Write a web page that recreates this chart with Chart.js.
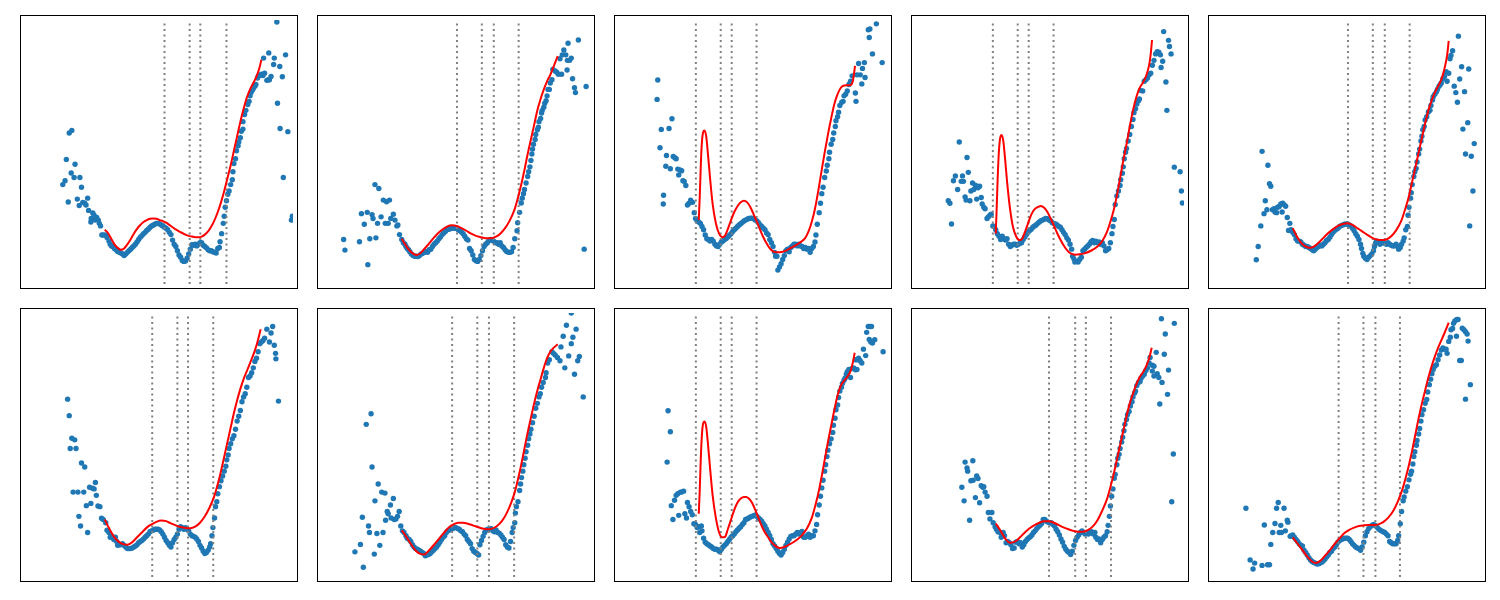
<!DOCTYPE html>
<html>
<head>
<meta charset="utf-8">
<script src="https://cdn.jsdelivr.net/npm/chart.js@4.4.0/dist/chart.umd.min.js"></script>
<style>
  body { margin: 0; background: #fff; width: 1500px; height: 600px; position: relative; overflow: hidden; }
  .panel { position: absolute; width: 276px; height: 272px; border: 1px solid #000; background: #fff; }
  .panel canvas { display: block; }
</style>
</head>
<body>
<script>
// 各パネルの値(読み取り値)  [x, y]
const p1Points = [[12.5,31.0],[13.2,32.2],[14.2,25.6],[13.6,38.8],[14.5,47.0],[15.3,47.8],[15.1,34.6],[16.0,33.2],[16.3,37.3],[17.0,26.5],[17.6,24.5],[17.8,33.2],[18.3,30.2],[18.7,25.5],[19.3,25.2],[20.2,26.8],[19.7,24.7],[20.5,23.0],[21.3,20.5],[21.2,19.4],[21.8,22.2],[22.2,21.5],[22.5,20.0],[23.0,20.8],[23.5,20.0],[23.8,19.0],[24.2,18.2],[24.6,15.4],[25.0,15.4],[25.7,15.4],[26.2,14.6],[26.8,13.5],[27.2,12.5],[27.6,12.0],[28.0,11.8],[28.5,11.2],[29.0,10.8],[29.5,10.3],[30.0,10.0],[30.5,9.8],[31.0,9.5],[31.5,9.0],[32.0,9.5],[32.5,10.0],[33.0,10.5],[33.5,11.0],[34.0,11.5],[34.5,12.0],[35.0,12.5],[35.5,13.2],[36.0,14.0],[36.5,14.7],[37.0,15.2],[37.5,15.8],[38.0,16.2],[38.5,16.8],[39.0,17.2],[39.5,17.7],[40.0,18.2],[40.5,18.4],[41.0,18.7],[41.5,19.0],[42.0,19.0],[42.5,18.8],[43.0,18.5],[43.5,18.2],[44.0,17.8],[44.5,17.5],[45.0,17.0],[45.5,16.2],[46.0,15.5],[46.5,13.8],[47.0,12.5],[47.5,11.8],[48.0,10.5],[48.5,9.2],[49.0,8.5],[49.5,7.5],[50.0,7.2],[50.5,7.3],[51.0,8.2],[51.5,9.5],[52.0,11.0],[52.5,12.4],[53.0,12.2],[53.5,12.5],[54.0,12.0],[54.5,12.5],[55.0,13.0],[55.5,13.0],[56.0,12.2],[56.5,11.8],[57.0,11.4],[57.5,10.8],[58.0,10.5],[58.5,10.5],[59.0,10.2],[59.5,10.0],[60.0,9.8],[60.5,11.2],[61.0,11.5],[61.2,13.3],[61.7,15.8],[62.2,19.0],[62.5,21.2],[62.8,24.0],[63.2,26.0],[63.6,28.0],[64.0,29.0],[64.5,31.0],[65.0,32.5],[65.2,35.0],[65.5,37.5],[66.0,39.0],[66.3,41.5],[66.8,43.0],[67.0,44.2],[67.5,45.5],[67.8,47.5],[68.3,48.2],[68.3,50.5],[68.8,52.7],[69.2,54.0],[69.8,55.8],[70.2,56.8],[70.5,58.5],[70.8,59.5],[71.2,60.2],[71.5,60.8],[72.0,61.5],[72.3,62.0],[72.8,64.0],[73.0,64.5],[73.5,64.8],[74.0,65.2],[74.5,64.8],[75.0,65.5],[75.7,63.3],[76.2,63.5],[76.5,63.5],[77.0,64.5],[74.7,70.2],[76.3,71.8],[78.0,70.2],[78.8,81.4],[77.8,68.2],[79.7,67.6],[80.5,64.4],[81.5,71.2],[79.0,56.2],[79.8,48.4],[80.8,33.2],[82.2,47.4],[83.3,20.0],[83.6,21.2]];
const p1Curve = [[25.5,17.0],[26.5,16.0],[27.5,14.2],[28.5,12.5],[29.5,11.4],[30.5,10.8],[31.5,11.2],[32.5,12.5],[33.5,14.0],[34.5,15.8],[35.5,17.3],[36.5,18.5],[37.5,19.4],[38.5,20.0],[39.5,20.4],[40.5,20.5],[41.5,20.4],[42.5,20.0],[43.5,19.7],[44.5,19.2],[45.5,18.5],[46.5,17.8],[47.5,17.1],[48.5,16.5],[49.5,16.0],[50.5,15.5],[51.5,15.1],[52.5,14.9],[53.5,14.7],[54.5,14.7],[55.5,14.9],[56.5,15.5],[57.5,16.5],[58.5,18.0],[59.5,20.0],[60.5,22.5],[61.5,25.5],[62.5,29.0],[63.5,33.0],[64.5,37.0],[65.5,41.5],[66.5,46.0],[67.5,50.5],[68.5,54.5],[69.5,58.0],[70.5,60.5],[71.5,62.5],[72.5,64.5],[73.5,67.5],[74.0,69.7]];
const p1Lines = [44.0, 51.8, 55.1, 63.2];

const p2Points = [[7.5,14.0],[7.9,10.7],[12.4,13.3],[15.0,6.2],[15.6,14.2],[13.0,22.0],[13.9,18.7],[14.8,22.4],[16.3,21.7],[16.6,20.5],[17.2,31.0],[17.5,14.5],[18.0,19.0],[18.4,29.8],[19.1,21.0],[19.8,26.2],[20.4,19.0],[20.8,25.7],[21.3,19.0],[21.7,26.2],[22.1,20.5],[22.9,21.8],[23.4,20.0],[24.0,18.2],[24.3,18.5],[24.8,15.5],[25.5,14.0],[26.0,13.0],[26.5,12.5],[26.8,11.8],[27.2,11.2],[27.6,10.8],[28.0,10.2],[28.5,9.5],[29.0,9.0],[29.5,8.8],[30.0,8.8],[30.5,8.7],[31.0,9.0],[31.5,9.5],[32.0,9.7],[32.5,10.0],[33.0,10.2],[33.5,10.0],[34.0,10.8],[34.5,11.0],[35.0,11.8],[35.5,12.5],[36.0,13.0],[36.5,13.5],[37.0,14.2],[37.5,14.8],[38.0,15.5],[38.5,16.0],[39.0,16.5],[39.5,17.0],[40.0,17.2],[40.5,17.3],[41.0,17.5],[41.5,17.5],[42.0,17.5],[42.5,17.4],[43.0,17.0],[43.5,16.7],[44.0,16.3],[44.5,15.8],[45.0,15.0],[45.5,14.2],[46.0,13.8],[46.5,11.2],[47.0,10.5],[47.5,9.2],[48.0,7.8],[48.5,7.4],[49.0,7.2],[49.5,7.8],[50.0,9.0],[50.5,10.5],[51.0,11.8],[51.5,12.5],[52.0,13.0],[52.5,13.7],[53.0,14.0],[53.5,13.7],[54.0,13.5],[54.5,13.0],[55.0,13.0],[55.5,12.5],[56.0,13.0],[56.5,12.0],[57.0,11.5],[57.5,10.8],[58.0,10.3],[58.5,10.0],[59.0,10.0],[59.5,10.2],[60.0,11.5],[60.5,14.2],[61.2,16.7],[61.4,19.2],[62.0,22.4],[62.5,25.3],[62.8,26.8],[63.2,28.2],[63.5,29.5],[64.0,31.5],[64.5,33.5],[64.8,35.0],[65.2,36.5],[65.5,38.5],[65.8,40.5],[66.0,42.0],[66.3,43.5],[66.8,45.0],[67.0,46.5],[67.5,48.0],[67.8,48.8],[68.0,50.5],[68.5,51.5],[68.8,53.2],[69.0,54.0],[69.5,55.0],[69.8,56.2],[70.2,57.0],[70.5,58.5],[70.8,60.5],[71.2,60.5],[71.5,62.5],[72.0,63.5],[72.3,66.7],[73.0,66.2],[73.5,65.8],[74.0,65.2],[75.0,65.2],[74.5,70.0],[75.2,71.2],[75.7,72.7],[76.3,71.2],[77.0,74.8],[76.8,69.5],[77.5,69.5],[78.0,70.2],[76.7,66.5],[78.4,63.8],[79.0,61.0],[79.3,59.5],[80.2,75.8],[82.0,11.0],[82.6,61.4]];
const p2Curve = [[25.5,14.2],[27.0,11.8],[28.5,10.0],[30.0,9.2],[31.0,9.5],[32.0,10.5],[33.5,12.2],[35.0,14.0],[36.5,15.7],[38.0,17.0],[39.5,18.0],[41.0,18.4],[42.5,18.2],[44.0,17.5],[45.5,16.7],[47.0,15.8],[48.5,15.1],[50.0,14.7],[51.5,14.4],[53.0,14.4],[54.5,14.8],[56.0,15.8],[57.5,17.5],[59.0,20.0],[60.5,23.5],[61.5,27.0],[62.5,31.0],[63.5,35.5],[64.5,40.5],[65.5,45.0],[66.5,49.5],[67.5,54.0],[68.5,57.5],[69.5,60.5],[70.5,63.0],[71.5,65.0],[72.5,67.5],[73.8,70.8]];
const p2Lines = [42.6, 50.3, 54.0, 61.7];

const p3Points = [[12.8,63.4],[12.6,57.4],[13.9,48.1],[13.5,42.4],[14.6,27.7],[14.5,25.0],[15.5,40.0],[15.3,36.7],[16.3,48.4],[16.7,35.9],[17.2,51.4],[17.6,39.7],[18.1,39.3],[18.5,39.0],[19.0,35.8],[19.3,34.0],[19.7,35.5],[20.2,35.3],[20.6,32.2],[21.0,32.0],[21.5,30.7],[22.0,24.7],[22.5,25.2],[23.0,26.2],[23.6,25.5],[24.1,22.3],[24.5,20.5],[25.0,19.7],[25.5,19.4],[26.0,19.0],[26.5,18.0],[27.0,17.0],[27.5,15.4],[28.0,14.2],[28.5,14.0],[29.0,13.5],[29.5,14.0],[30.0,13.5],[30.5,12.5],[31.0,12.0],[31.5,11.8],[32.0,12.5],[32.5,13.2],[33.0,13.5],[33.5,14.0],[34.0,14.3],[34.5,14.8],[35.0,15.3],[35.5,15.8],[36.0,16.5],[36.5,17.0],[37.0,17.5],[37.5,18.0],[38.0,18.5],[38.5,18.9],[39.0,19.3],[39.5,19.7],[40.0,20.0],[40.5,20.3],[41.0,20.5],[41.5,20.6],[42.0,20.6],[42.5,20.4],[43.0,20.0],[43.5,19.7],[44.0,19.2],[44.5,18.5],[45.0,18.0],[45.5,17.5],[46.0,17.0],[46.5,16.0],[47.0,15.5],[47.5,14.0],[48.0,13.0],[48.5,11.8],[49.0,10.0],[49.3,8.8],[49.7,8.8],[50.0,4.5],[50.5,5.5],[51.0,6.5],[51.5,7.8],[52.0,9.0],[52.5,10.5],[53.0,11.0],[53.5,10.2],[54.0,11.5],[54.5,12.0],[55.0,12.5],[55.5,12.5],[56.0,12.0],[56.5,12.5],[57.0,12.0],[57.5,11.8],[58.0,11.2],[58.5,11.5],[59.0,11.0],[59.5,11.2],[60.0,10.0],[60.5,11.2],[61.0,11.8],[61.5,13.2],[61.8,15.4],[62.2,18.7],[62.8,22.3],[63.2,25.2],[63.6,28.2],[64.0,30.2],[64.5,33.2],[65.0,35.2],[65.3,37.0],[65.8,39.0],[66.0,41.0],[66.5,43.5],[67.0,45.0],[67.3,47.0],[67.8,49.0],[68.0,50.8],[68.5,52.0],[68.8,53.4],[69.2,55.5],[69.8,56.5],[70.2,56.8],[70.5,58.5],[71.0,59.0],[71.5,60.0],[72.0,62.0],[72.5,63.0],[73.0,64.7],[74.0,59.4],[74.5,65.0],[74.2,56.8],[75.0,68.5],[75.5,65.0],[76.0,62.2],[76.2,67.0],[76.8,68.8],[77.0,64.2],[78.0,79.0],[78.5,79.2],[78.3,76.6],[79.3,71.5],[80.5,80.8],[82.3,68.8]];
const p3Curve = [[25.5,20.0],[25.8,27.0],[26.1,36.0],[26.4,43.0],[26.8,47.0],[27.3,47.8],[27.8,46.0],[28.3,41.0],[29.0,33.0],[29.8,25.0],[30.8,19.0],[31.8,15.8],[32.8,14.7],[33.5,15.0],[34.5,17.2],[35.5,20.0],[36.5,22.5],[37.5,24.3],[38.5,25.5],[39.5,26.0],[40.5,25.5],[41.5,24.0],[42.5,21.8],[43.5,19.5],[44.5,17.0],[45.5,14.7],[46.5,12.8],[47.5,11.2],[48.5,10.3],[50.0,10.0],[51.5,10.2],[53.0,10.8],[54.5,11.6],[56.0,12.5],[57.5,13.5],[58.5,14.5],[59.5,16.5],[60.5,19.5],[61.5,23.5],[62.5,29.0],[63.5,35.0],[64.5,41.0],[65.5,46.5],[66.5,51.5],[67.5,56.0],[68.5,59.0],[69.5,61.0],[70.5,61.7],[71.5,61.8],[72.5,61.8],[73.2,63.0],[73.6,65.5],[73.9,67.8]];
const p3Lines = [24.6, 32.3, 35.7, 43.4];

const p4Points = [[10.8,26.0],[11.3,25.2],[11.8,18.8],[12.4,32.2],[13.0,33.7],[13.7,29.5],[14.2,44.2],[14.8,32.0],[15.2,33.7],[15.5,32.0],[16.0,27.2],[16.3,26.2],[16.6,39.4],[17.0,34.8],[17.5,26.0],[17.8,29.0],[18.3,31.5],[18.7,29.5],[19.2,30.8],[19.6,26.5],[20.0,30.0],[20.5,30.5],[21.0,27.0],[21.3,25.0],[21.8,24.0],[22.2,23.5],[22.8,20.5],[23.2,21.0],[23.7,21.5],[24.1,21.8],[24.6,18.2],[25.0,18.0],[25.5,17.0],[26.0,15.8],[26.5,15.0],[27.0,14.0],[27.5,15.0],[28.0,14.2],[28.5,13.8],[29.0,14.2],[29.5,12.5],[30.0,11.8],[30.5,12.2],[31.0,12.5],[31.5,12.5],[32.0,12.2],[32.5,12.5],[33.0,12.8],[33.5,13.0],[34.0,14.0],[34.5,14.8],[35.0,15.5],[35.5,16.2],[36.0,16.8],[36.5,17.2],[37.0,17.8],[37.5,18.2],[38.0,18.5],[38.5,19.0],[39.0,19.4],[39.5,19.8],[40.0,20.0],[40.5,20.3],[41.0,20.5],[41.5,20.4],[42.0,20.0],[42.5,19.8],[43.0,19.2],[43.5,19.0],[44.0,18.8],[44.5,18.5],[45.0,18.0],[45.5,17.8],[46.0,17.0],[46.5,16.2],[47.0,15.5],[47.5,14.5],[48.0,13.8],[48.5,12.5],[49.0,11.0],[49.3,8.8],[49.7,8.0],[50.0,7.0],[50.5,7.2],[51.0,7.0],[51.5,7.8],[52.0,8.5],[52.5,10.5],[53.0,11.0],[53.5,11.5],[54.0,12.0],[54.5,12.5],[55.0,13.3],[55.5,13.7],[56.0,13.0],[56.5,13.5],[57.0,13.0],[57.5,13.2],[58.0,12.5],[58.5,13.0],[59.0,12.0],[59.5,10.5],[60.0,10.8],[60.5,11.2],[61.0,13.0],[61.5,15.8],[61.8,18.0],[62.2,20.2],[62.5,24.8],[63.0,27.5],[63.5,29.0],[64.0,30.7],[64.2,32.5],[64.7,34.5],[65.0,36.5],[65.3,39.0],[65.7,41.0],[66.0,42.2],[66.5,44.5],[67.0,46.5],[67.5,49.0],[68.0,51.2],[68.3,53.3],[68.8,54.5],[69.2,56.0],[69.7,57.0],[70.0,57.5],[70.3,60.2],[71.0,60.0],[71.5,63.0],[72.0,63.5],[72.5,64.0],[73.0,65.0],[73.5,65.5],[74.0,68.0],[74.5,69.5],[75.0,71.5],[75.5,72.2],[76.0,72.0],[76.5,71.2],[76.7,67.3],[77.2,69.2],[77.5,78.4],[78.2,62.8],[78.5,54.0],[79.0,75.7],[79.3,73.8],[79.8,71.5],[80.8,36.4],[82.6,35.0],[83.0,29.0],[83.3,25.3]];
const p4Curve = [[25.5,15.8],[25.8,24.0],[26.1,33.0],[26.4,40.0],[26.8,45.0],[27.3,46.4],[27.8,44.8],[28.3,40.0],[29.0,32.0],[29.8,24.5],[30.8,18.0],[31.8,15.0],[32.8,13.8],[33.5,14.0],[34.5,16.2],[35.5,19.0],[36.5,21.7],[37.5,23.3],[38.5,24.0],[39.5,24.4],[40.5,23.8],[41.5,22.5],[42.5,20.5],[43.5,18.3],[44.5,16.0],[45.5,14.0],[46.5,12.2],[47.5,10.8],[48.5,9.8],[50.0,9.3],[51.5,9.4],[53.0,9.7],[55.0,10.5],[57.0,11.8],[58.5,13.5],[60.0,16.5],[61.0,19.5],[62.0,23.0],[63.0,27.5],[64.0,33.0],[65.0,38.5],[66.0,43.5],[67.0,49.0],[68.0,54.0],[69.0,58.0],[70.0,60.8],[71.0,62.5],[72.0,64.5],[73.0,68.0],[73.5,71.5],[73.9,75.8]];
const p4Lines = [24.6, 32.3, 35.7, 43.4];

const p5Points = [[14.2,7.7],[14.8,11.8],[15.6,18.2],[16.0,41.3],[16.6,22.0],[17.0,26.0],[17.5,23.2],[17.8,37.0],[18.3,31.3],[18.7,30.5],[19.2,23.2],[19.7,23.5],[20.0,22.5],[20.5,22.3],[20.8,24.0],[21.3,24.2],[21.8,25.0],[22.2,22.5],[22.4,25.2],[22.8,24.8],[23.3,24.3],[23.8,20.8],[24.2,16.8],[24.6,19.0],[25.0,17.0],[25.5,16.2],[26.0,15.5],[26.5,14.2],[27.0,13.5],[27.5,13.5],[28.0,13.2],[28.5,12.5],[29.0,12.2],[29.5,11.8],[30.0,11.8],[30.5,11.5],[31.0,11.2],[31.5,10.8],[32.0,10.5],[32.5,11.0],[33.0,11.5],[33.5,11.8],[34.0,12.2],[34.5,12.0],[35.0,12.5],[35.5,13.0],[36.0,13.7],[36.5,14.0],[37.0,14.7],[37.5,15.5],[38.0,16.2],[38.5,16.8],[39.0,17.2],[39.5,17.5],[40.0,18.0],[40.5,18.3],[41.0,18.5],[41.5,18.7],[42.0,18.8],[42.5,18.8],[43.0,18.5],[43.5,18.2],[44.0,17.5],[44.5,16.7],[45.0,15.8],[45.5,15.0],[46.0,14.0],[46.5,12.5],[46.8,11.2],[47.2,9.7],[47.5,8.8],[48.0,8.2],[48.5,7.8],[49.0,8.5],[49.5,9.0],[50.0,9.5],[50.5,10.5],[50.8,11.8],[51.2,13.0],[51.5,13.5],[52.0,13.0],[52.5,12.5],[53.0,13.0],[53.5,13.0],[54.0,12.8],[54.5,12.5],[55.0,13.0],[55.5,12.5],[56.0,12.2],[56.5,12.0],[57.0,12.0],[57.5,12.5],[58.0,11.8],[58.3,11.0],[58.8,11.5],[59.2,12.5],[59.7,13.5],[60.0,14.5],[60.5,17.0],[61.0,18.0],[61.2,21.5],[61.5,24.0],[62.0,26.8],[62.2,28.5],[62.5,31.0],[63.0,33.5],[63.3,35.0],[63.7,36.0],[64.0,38.0],[64.5,40.5],[64.8,42.0],[65.2,44.5],[65.5,46.0],[65.8,48.0],[66.2,49.0],[66.5,51.0],[67.0,52.0],[67.5,53.5],[68.0,54.0],[68.3,55.5],[68.8,57.2],[69.0,58.2],[69.5,59.0],[70.0,59.8],[70.3,60.5],[70.8,61.5],[71.2,62.0],[71.5,62.5],[72.0,63.8],[72.5,64.5],[73.0,66.0],[73.3,63.0],[73.8,65.5],[74.2,70.0],[74.5,71.0],[75.0,72.5],[75.5,61.5],[76.0,59.5],[76.5,56.5],[76.8,77.0],[77.2,63.7],[77.8,67.5],[78.2,48.2],[78.7,59.8],[79.7,50.2],[80.0,66.8],[79.0,40.5],[80.8,39.8],[81.7,43.7],[81.3,29.0],[80.3,18.2]];
const p5Curve = [[25.5,17.5],[27.0,14.5],[28.5,12.5],[30.0,11.6],[31.0,11.4],[32.0,11.8],[33.5,13.0],[35.0,14.5],[36.5,16.0],[38.0,17.2],[39.5,18.2],[41.0,18.8],[42.5,19.0],[44.0,18.5],[45.5,17.5],[47.0,16.5],[48.5,15.5],[50.0,14.6],[51.5,14.0],[53.0,13.8],[54.5,14.0],[56.0,15.0],[57.5,16.8],[59.0,19.5],[60.5,24.0],[61.5,27.5],[62.5,32.0],[63.5,36.5],[64.5,41.0],[65.5,45.5],[66.5,50.0],[67.5,54.0],[68.5,57.0],[69.5,59.5],[70.5,61.5],[71.5,63.5],[72.5,67.0],[73.3,71.0],[73.8,75.5]];
const p5Lines = [42.6, 50.3, 54.0, 61.7];

const p6Points = [[14.0,55.3],[14.5,50.2],[15.3,43.2],[14.8,40.0],[16.2,42.7],[16.6,40.0],[15.7,26.5],[17.2,26.5],[17.5,19.0],[18.3,35.5],[18.0,16.0],[19.0,26.5],[19.3,34.3],[19.8,22.3],[20.2,14.0],[20.8,28.0],[21.2,23.0],[21.7,27.7],[22.2,27.5],[22.6,29.5],[22.9,25.5],[23.4,22.2],[24.0,22.0],[24.5,18.4],[25.0,18.0],[25.8,17.0],[26.2,14.7],[26.8,14.0],[27.2,12.5],[27.8,12.8],[28.3,11.8],[28.8,12.5],[29.2,11.2],[29.5,10.0],[30.0,10.2],[30.5,10.2],[31.0,10.5],[31.5,10.0],[32.0,9.5],[32.5,9.0],[33.0,9.0],[33.5,9.0],[34.0,9.2],[34.5,9.5],[35.0,9.8],[35.5,10.2],[36.0,10.8],[36.5,11.2],[37.0,11.5],[37.5,12.0],[38.0,12.5],[38.5,13.0],[39.0,13.5],[39.5,14.2],[40.0,14.5],[40.5,14.7],[41.0,15.0],[41.5,15.0],[42.0,15.0],[42.5,14.8],[43.0,14.2],[43.5,13.5],[44.0,12.5],[44.5,11.5],[45.0,10.8],[45.5,10.0],[46.0,9.5],[46.5,10.8],[47.0,11.8],[47.5,12.5],[48.0,13.5],[48.5,15.0],[49.0,15.8],[49.5,15.5],[50.0,15.0],[50.5,15.5],[51.0,15.0],[51.5,14.5],[52.0,13.5],[52.5,13.0],[53.0,12.8],[53.5,12.5],[54.0,12.0],[54.5,11.2],[55.0,10.0],[55.5,9.2],[56.0,8.2],[56.5,7.5],[57.0,7.8],[57.5,8.5],[58.0,9.5],[58.3,10.5],[58.7,13.0],[59.0,15.5],[59.5,18.5],[59.8,22.0],[60.2,23.5],[60.5,26.0],[61.0,28.2],[61.5,30.0],[62.0,31.5],[62.5,33.0],[63.0,34.5],[63.3,36.5],[63.7,38.0],[64.0,40.0],[64.5,41.5],[65.0,43.0],[65.5,44.0],[66.0,46.0],[66.5,48.5],[67.0,50.0],[67.5,51.8],[68.0,54.5],[68.5,56.0],[69.0,57.0],[69.5,59.0],[70.0,62.0],[70.5,62.5],[71.0,63.5],[71.5,65.0],[72.0,67.0],[72.5,68.0],[73.0,70.0],[73.5,72.5],[74.0,73.0],[74.5,73.5],[75.0,74.2],[75.7,77.0],[76.5,73.0],[77.0,75.8],[77.5,77.8],[78.0,72.0],[78.4,69.5],[78.5,67.8],[79.3,54.7]];
const p6Curve = [[25.5,18.0],[27.0,15.0],[28.5,12.5],[30.0,11.0],[31.5,10.3],[32.5,10.2],[34.0,11.0],[35.5,12.5],[37.0,14.0],[38.5,15.5],[40.0,16.5],[41.5,17.3],[43.0,17.7],[44.5,17.5],[46.0,16.8],[47.5,16.2],[49.0,15.7],[50.5,15.4],[52.0,15.3],[53.5,15.8],[55.0,17.0],[56.5,19.0],[58.0,21.8],[59.5,25.5],[60.5,29.0],[61.5,33.0],[62.5,37.5],[63.5,42.0],[64.5,46.5],[65.5,51.0],[66.5,55.0],[67.5,58.5],[68.5,61.5],[69.5,64.0],[70.5,66.5],[71.5,69.0],[72.5,72.0],[73.8,77.0]];
const p6Lines = [40.2, 48.0, 51.3, 59.1];

const p7Points = [[11.0,8.0],[12.7,10.3],[13.3,18.7],[13.6,3.2],[14.5,47.5],[15.2,16.0],[15.5,14.0],[16.0,50.8],[16.3,34.3],[17.0,7.3],[17.2,23.8],[17.8,13.7],[18.2,29.0],[18.7,10.0],[19.3,26.5],[19.7,14.0],[20.3,26.2],[20.5,17.8],[21.0,20.5],[21.3,19.8],[22.0,22.5],[22.2,18.5],[22.9,24.5],[23.2,18.0],[23.7,18.2],[24.2,19.0],[24.7,20.5],[25.2,16.0],[25.7,14.5],[26.2,14.0],[26.8,13.0],[27.2,12.2],[27.8,11.8],[28.3,11.2],[28.8,10.2],[29.3,9.5],[29.8,9.0],[30.3,8.8],[30.8,8.5],[31.3,8.2],[31.8,7.8],[32.3,7.5],[32.8,6.8],[33.3,7.0],[33.8,7.2],[34.3,7.5],[34.8,8.0],[35.3,8.5],[35.8,9.0],[36.3,9.5],[36.8,10.2],[37.3,11.0],[37.8,11.8],[38.3,12.5],[38.8,13.0],[39.3,14.0],[39.8,14.5],[40.3,14.8],[40.8,15.0],[41.3,15.2],[41.8,15.5],[42.3,15.5],[42.8,15.2],[43.3,15.0],[43.8,14.5],[44.3,14.2],[44.8,13.5],[45.3,13.0],[45.8,11.8],[46.3,11.2],[46.8,10.5],[47.3,9.0],[47.8,8.2],[48.3,7.8],[48.8,7.5],[49.3,7.0],[49.7,10.2],[50.2,11.5],[50.7,12.8],[51.2,14.0],[51.7,14.8],[52.2,15.0],[52.7,15.2],[53.2,15.2],[53.7,14.5],[54.2,14.2],[54.7,14.8],[55.2,14.0],[55.7,13.8],[56.2,13.2],[56.7,12.5],[57.2,11.8],[57.7,10.2],[58.2,9.5],[58.7,9.2],[59.2,11.2],[59.7,14.0],[60.0,15.5],[60.5,17.0],[60.7,20.0],[61.0,22.0],[61.5,23.5],[62.0,27.0],[62.3,29.0],[62.6,31.0],[63.0,33.0],[63.3,35.0],[63.7,37.0],[64.0,39.0],[64.5,41.0],[64.8,43.0],[65.2,44.5],[65.5,46.0],[66.0,48.0],[66.5,50.0],[67.0,52.5],[67.5,54.0],[68.0,56.0],[68.4,57.0],[68.8,59.0],[69.3,60.5],[70.0,62.0],[70.2,63.5],[70.7,66.5],[71.2,67.5],[72.0,70.0],[72.5,69.5],[73.0,69.0],[73.7,68.2],[74.5,67.2],[74.8,71.5],[75.5,74.8],[76.0,65.0],[76.5,78.2],[77.2,68.7],[78.0,72.5],[78.5,74.5],[79.0,63.0],[79.5,77.0],[80.0,67.2],[80.5,68.5],[81.7,56.0],[78.0,82.0]];
const p7Curve = [[25.5,14.7],[27.0,12.5],[28.5,10.2],[30.0,8.2],[31.5,7.3],[32.5,7.2],[34.0,8.5],[35.5,10.2],[37.0,12.0],[38.5,13.8],[40.0,15.5],[41.5,16.5],[43.0,17.0],[44.5,17.0],[46.0,16.7],[47.5,16.2],[49.0,15.7],[50.5,15.2],[52.0,15.0],[53.5,15.2],[55.0,16.0],[56.5,17.5],[58.0,20.0],[59.5,23.5],[60.5,26.5],[61.5,30.5],[62.5,35.0],[63.5,40.0],[64.5,45.0],[65.5,49.5],[66.5,54.0],[67.5,58.0],[68.5,61.5],[69.5,65.0],[70.5,68.0],[71.5,70.0],[72.5,71.2],[73.8,72.3]];
const p7Lines = [41.1, 48.9, 52.5, 60.3];

const p8Points = [[16.0,51.7],[16.7,45.2],[15.7,35.8],[17.0,22.3],[17.5,18.0],[18.0,24.0],[18.5,25.5],[19.0,26.0],[19.3,19.3],[19.8,26.5],[20.2,26.5],[20.8,26.8],[21.2,19.8],[21.7,18.5],[22.0,23.3],[22.5,22.0],[23.0,20.5],[23.5,19.5],[24.0,16.7],[24.5,16.5],[25.0,15.5],[25.5,15.8],[25.8,14.0],[26.3,16.0],[26.5,14.5],[27.0,12.2],[27.5,11.0],[28.0,10.5],[28.5,10.2],[29.0,9.8],[29.5,9.5],[30.0,9.0],[30.5,8.8],[31.0,8.8],[31.5,8.5],[32.0,8.0],[32.5,8.8],[33.0,9.5],[33.5,10.0],[34.0,10.5],[34.5,11.2],[35.0,11.8],[35.5,12.5],[36.0,13.0],[36.5,13.5],[37.0,14.2],[37.5,14.8],[38.0,15.3],[38.5,15.8],[39.0,16.5],[39.5,17.0],[40.0,18.0],[40.5,18.2],[41.0,18.5],[41.5,18.8],[42.0,19.0],[42.5,19.2],[43.0,19.4],[43.5,19.0],[44.0,18.5],[44.5,18.0],[45.0,17.5],[45.5,16.7],[46.0,16.0],[46.5,15.0],[47.0,14.0],[47.5,13.0],[48.0,11.8],[48.5,10.5],[49.0,9.8],[49.5,9.0],[50.0,8.2],[50.5,7.5],[51.0,7.0],[51.5,7.8],[52.0,8.8],[52.5,10.0],[53.0,11.0],[53.5,12.0],[54.0,12.8],[54.5,13.0],[55.0,13.0],[55.5,13.5],[56.0,14.0],[56.5,13.5],[57.0,14.0],[57.5,14.3],[58.0,12.5],[58.5,12.5],[59.0,13.0],[59.5,13.5],[60.0,12.5],[60.5,13.0],[61.0,13.0],[61.5,14.5],[62.0,16.5],[62.3,19.5],[62.8,22.5],[63.2,25.2],[63.6,27.8],[64.0,30.2],[64.5,33.0],[64.8,35.0],[65.2,37.5],[65.5,39.5],[66.0,41.5],[66.5,43.0],[67.0,45.0],[67.2,47.2],[67.7,49.4],[68.0,52.0],[68.5,53.5],[68.8,55.8],[69.2,57.8],[69.7,59.0],[70.0,60.2],[70.5,61.2],[70.8,61.8],[71.2,63.0],[71.5,63.8],[72.0,64.5],[72.5,62.0],[73.0,64.8],[73.5,65.0],[74.0,64.4],[74.5,64.5],[74.0,67.5],[74.5,67.5],[75.0,68.0],[75.5,67.2],[76.0,66.5],[76.5,70.8],[77.2,68.8],[77.5,76.0],[78.0,77.8],[78.5,77.8],[79.0,77.8],[78.3,73.8],[78.8,73.0],[79.3,72.7],[80.0,73.7],[82.6,70.0]];
const p8Curve = [[25.5,19.8],[25.8,27.0],[26.1,36.0],[26.4,43.0],[26.8,47.5],[27.3,48.4],[27.8,46.8],[28.3,42.0],[29.0,34.0],[29.8,25.5],[30.8,18.5],[31.8,14.0],[32.8,12.5],[33.6,12.6],[34.5,15.0],[35.5,18.0],[36.5,21.0],[37.5,23.3],[38.5,24.5],[39.5,25.0],[40.2,25.0],[41.0,24.5],[42.0,23.2],[43.0,21.0],[44.0,18.5],[45.0,16.0],[46.0,14.0],[47.0,12.5],[48.0,11.0],[49.0,10.0],[50.5,9.2],[52.0,9.5],[54.0,10.5],[56.0,11.8],[57.5,13.2],[59.0,15.2],[60.5,18.5],[61.5,22.0],[62.5,26.0],[63.5,31.0],[64.5,36.5],[65.5,42.0],[66.5,47.0],[67.5,52.0],[68.5,56.5],[69.5,59.5],[70.5,61.0],[71.5,62.2],[72.5,64.0],[73.3,67.0],[73.8,69.7]];
const p8Lines = [24.6, 32.3, 35.7, 43.4];

const p9Points = [[15.0,28.0],[15.7,23.8],[16.0,35.8],[16.6,34.0],[16.8,33.0],[17.4,17.8],[17.8,30.0],[18.4,36.2],[18.5,30.2],[19.2,24.8],[19.6,31.5],[20.0,30.7],[20.5,23.2],[21.0,28.5],[21.5,28.0],[21.8,28.2],[22.2,26.5],[22.8,25.2],[23.2,20.2],[23.7,18.2],[24.3,20.2],[24.7,17.0],[25.3,15.8],[25.7,15.0],[26.2,14.2],[26.8,14.0],[27.2,12.5],[27.8,14.0],[28.2,13.0],[28.7,10.8],[29.2,11.2],[29.7,10.8],[30.2,10.2],[30.7,9.0],[31.2,9.2],[31.7,11.0],[32.2,11.2],[32.7,10.5],[33.2,10.8],[33.7,9.5],[34.2,10.2],[34.7,11.2],[35.2,11.8],[35.7,12.3],[36.2,12.7],[36.7,13.2],[37.2,14.0],[37.7,14.5],[38.2,15.2],[38.7,15.8],[39.2,16.2],[39.7,16.8],[40.2,18.0],[40.7,18.0],[41.2,17.5],[41.7,17.2],[42.2,17.0],[42.7,17.0],[43.2,16.5],[43.7,16.0],[44.2,15.0],[44.7,14.2],[45.2,13.2],[45.7,12.0],[46.2,11.0],[46.7,9.7],[47.2,8.8],[47.7,8.2],[48.2,7.8],[48.7,7.2],[49.2,8.2],[49.7,10.0],[50.2,11.5],[50.7,12.5],[51.2,13.2],[51.7,14.0],[52.2,14.5],[52.7,14.0],[53.2,13.5],[53.7,14.0],[54.2,13.5],[54.7,14.0],[55.2,14.2],[55.7,13.5],[56.2,14.0],[56.5,12.5],[57.0,11.8],[57.5,12.0],[58.0,10.8],[58.5,11.8],[59.0,12.5],[59.5,13.0],[60.0,14.2],[60.3,16.2],[60.7,19.0],[61.0,22.2],[61.4,25.2],[61.8,27.5],[62.2,30.8],[62.5,32.0],[63.0,35.0],[63.3,37.0],[63.7,38.2],[64.0,40.0],[64.5,42.0],[64.8,43.5],[65.2,45.5],[65.5,47.5],[66.0,49.0],[66.3,50.5],[66.8,51.5],[67.2,53.2],[67.7,54.5],[68.0,56.0],[68.5,57.2],[68.8,57.8],[69.2,59.5],[69.7,60.5],[70.2,60.8],[70.5,61.8],[71.0,62.5],[71.5,63.0],[72.0,64.2],[72.5,65.0],[73.0,66.5],[73.3,68.2],[74.0,65.8],[74.5,65.5],[74.0,64.0],[74.5,62.5],[75.2,69.8],[75.5,63.2],[76.0,62.0],[76.3,53.8],[76.8,80.2],[77.0,60.5],[77.7,69.2],[78.0,75.5],[78.7,56.8],[79.0,64.3],[80.0,23.5],[80.5,38.3],[80.8,78.8]];
const p9Curve = [[25.5,16.8],[27.0,14.5],[28.5,12.0],[30.0,10.8],[31.5,11.2],[33.0,12.5],[34.5,14.0],[36.0,15.3],[37.5,16.3],[39.0,17.0],[40.5,17.5],[42.0,17.5],[43.5,17.0],[45.0,16.3],[46.5,15.6],[48.0,15.0],[49.5,14.5],[51.0,14.2],[52.5,14.2],[54.0,14.7],[55.5,15.8],[57.0,17.8],[58.5,20.8],[60.0,24.5],[61.0,28.0],[62.0,32.0],[63.0,36.5],[64.0,41.0],[65.0,45.5],[66.0,50.0],[67.0,54.0],[68.0,57.0],[69.0,59.8],[70.0,62.0],[71.0,63.5],[72.0,65.3],[73.0,68.0],[73.8,71.2]];
const p9Lines = [42.0, 50.1, 53.4, 61.2];

const p10Points = [[11.0,21.5],[12.3,5.5],[13.2,2.7],[13.7,4.5],[16.0,3.8],[17.7,4.0],[18.3,4.0],[16.7,16.3],[18.7,10.3],[19.3,14.0],[20.0,16.8],[20.5,21.5],[21.0,23.3],[21.3,14.0],[21.8,16.2],[22.0,14.0],[22.8,21.5],[23.2,14.5],[23.8,17.8],[24.0,17.2],[24.7,12.8],[25.0,13.0],[25.5,13.2],[26.0,12.5],[26.5,11.8],[27.0,11.2],[27.5,10.5],[28.0,10.0],[28.5,9.8],[29.0,8.5],[29.5,7.8],[30.0,7.0],[30.5,6.2],[31.0,5.5],[31.5,5.0],[32.0,4.7],[32.5,4.5],[33.0,4.2],[33.5,4.3],[34.0,4.5],[34.5,4.8],[35.0,5.2],[35.5,5.8],[36.0,6.5],[36.5,7.0],[37.0,7.8],[37.5,8.2],[38.0,9.0],[38.5,9.5],[39.0,10.2],[39.5,11.0],[40.0,11.5],[40.5,11.8],[41.0,12.0],[41.5,12.2],[42.0,12.2],[42.5,12.2],[43.0,11.8],[43.5,11.2],[44.0,10.5],[44.5,10.0],[45.0,9.5],[45.5,9.2],[46.0,9.0],[46.5,8.5],[47.0,9.5],[47.5,11.0],[48.0,13.0],[48.5,14.2],[49.0,15.2],[49.5,15.8],[50.0,16.2],[50.5,16.5],[51.0,16.2],[51.5,15.8],[52.0,15.2],[52.5,14.8],[53.0,14.5],[53.5,14.2],[54.0,14.0],[54.5,13.5],[55.0,13.0],[55.5,11.2],[56.0,10.8],[56.5,10.5],[57.0,10.5],[57.5,10.5],[58.0,11.5],[58.3,13.0],[58.8,16.7],[59.2,20.5],[59.7,23.8],[60.0,25.0],[60.5,26.8],[61.0,28.2],[61.5,30.3],[62.0,32.0],[62.3,33.0],[62.7,35.2],[63.0,37.5],[63.3,39.0],[63.8,41.0],[64.0,42.5],[64.5,44.5],[64.8,46.2],[65.2,48.5],[65.5,50.5],[66.0,52.0],[66.5,54.0],[67.0,55.2],[67.3,57.5],[67.8,59.8],[68.2,61.5],[68.6,63.2],[69.0,64.5],[69.5,65.5],[70.0,66.0],[70.5,67.5],[71.0,69.0],[71.5,70.5],[72.0,71.2],[72.5,70.8],[73.0,70.8],[73.3,69.5],[73.8,73.2],[74.3,74.5],[74.5,76.8],[75.0,77.2],[75.3,78.8],[75.7,79.5],[76.3,80.0],[76.7,80.0],[77.2,67.3],[77.7,67.3],[78.0,77.3],[78.5,76.8],[79.0,76.2],[79.5,75.5],[79.8,73.3],[76.2,74.8],[79.0,55.3],[80.5,59.8]];
const p10Curve = [[25.5,12.5],[27.0,10.5],[28.5,8.5],[30.0,6.5],[31.5,5.0],[32.5,4.5],[34.0,5.2],[35.5,6.8],[37.0,8.5],[38.5,10.5],[40.0,12.2],[41.5,13.8],[43.0,14.8],[44.5,15.5],[46.0,16.0],[47.5,16.2],[49.0,16.3],[50.5,16.3],[52.0,16.5],[53.5,17.2],[55.0,18.5],[56.5,20.5],[58.0,23.5],[59.5,27.5],[60.5,31.0],[61.5,35.0],[62.5,39.5],[63.5,44.5],[64.5,49.5],[65.5,54.0],[66.5,58.0],[67.5,62.0],[68.5,65.5],[69.5,68.5],[70.5,71.2],[71.5,73.5],[72.5,75.8],[73.8,79.0]];
const p10Lines = [39.7, 47.4, 51.1, 58.7];

// 軸の範囲
const xRange = [0.8, 83.8];
const yRange = [0.2, 82.0];

const panels = [
    [p1Points, p1Curve, p1Lines], [p2Points, p2Curve, p2Lines], [p3Points, p3Curve, p3Lines],
    [p4Points, p4Curve, p4Lines], [p5Points, p5Curve, p5Lines], [p6Points, p6Curve, p6Lines],
    [p7Points, p7Curve, p7Lines], [p8Points, p8Curve, p8Lines], [p9Points, p9Curve, p9Lines],
    [p10Points, p10Curve, p10Lines]
];

// [x, y] を Chart.js の点に変換
function toXY(pairs) {
    return pairs.map(function(p) { return { x: p[0], y: p[1] }; });
}

// 1枚のパネルを作成
function createPanel(index, points, curve, lines) {
    const box = document.createElement('div');
    box.className = 'panel';
    box.style.left = (20 + (index % 5) * 297) + 'px';
    box.style.top = (15 + Math.floor(index / 5) * 293) + 'px';
    const canvas = document.createElement('canvas');
    canvas.width = 276;
    canvas.height = 272;
    box.appendChild(canvas);
    document.body.appendChild(box);

    const datasets = [];
    // 点線(縦線)
    lines.forEach(function(v) {
        datasets.push({
            type: 'line',
            data: [{ x: v, y: yRange[0] }, { x: v, y: yRange[1] }],
            borderColor: '#808080',
            borderWidth: 2,
            borderDash: [2, 3.5],
            pointRadius: 0,
            order: 1
        });
    });
    // 近似曲線
    datasets.push({
        type: 'line',
        data: toXY(curve),
        borderColor: '#ff0000',
        borderWidth: 2,
        pointRadius: 0,
        cubicInterpolationMode: 'monotone',
        order: 0
    });
    // 散布図
    datasets.push({
        type: 'scatter',
        data: toXY(points),
        backgroundColor: '#1f77b4',
        borderWidth: 0,
        pointRadius: 2.7,
        order: 2
    });

    new Chart(canvas.getContext('2d'), {
        type: 'scatter',
        data: { datasets: datasets },
        options: {
            responsive: false,
            animation: false,
            events: [],
            layout: { padding: 0 },
            plugins: { legend: { display: false }, tooltip: { enabled: false } },
            scales: {
                x: { type: 'linear', display: false, min: xRange[0], max: xRange[1] },
                y: { type: 'linear', display: false, min: yRange[0], max: yRange[1] }
            }
        }
    });
}

panels.forEach(function(p, i) { createPanel(i, p[0], p[1], p[2]); });
</script>
</body>
</html>
